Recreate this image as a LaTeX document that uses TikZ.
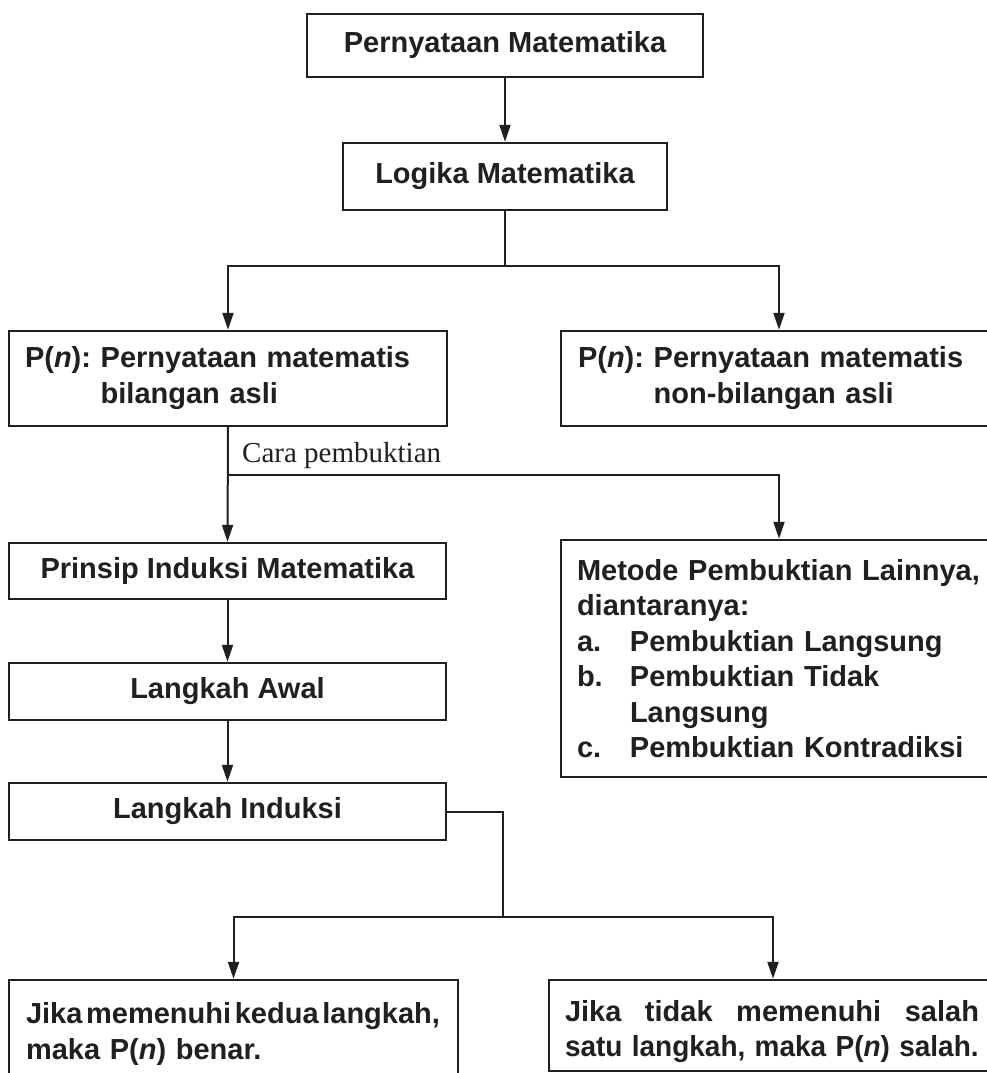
\documentclass[tikz,border=0pt]{standalone}
\usepackage{fontspec}
\usepackage{graphicx}
\setmainfont{Liberation Sans}
\newfontfamily\labelserif{Liberation Serif}
\usetikzlibrary{arrows.meta}
\definecolor{ink}{RGB}{35,31,32}
\begin{document}
\begin{tikzpicture}[x=1pt,y=-1pt,
  box/.style={draw=ink, line width=2.4pt, rectangle, inner sep=0pt, text=ink,
    font=\fontsize{29}{35.5}\selectfont\bfseries},
  conn/.style={draw=ink, line width=2pt},
  arr/.style={conn, -{Triangle[length=17pt,width=11pt]}},
]
\useasboundingbox (0,0) rectangle (987,1073);
\clip (0,0) rectangle (987,1073);

\node[box, minimum width=396, minimum height=63] (b1) at (505,45.5) {Pernyataan Matematika};
\node[box, minimum width=324, minimum height=67] (b2) at (505,176.5) {Logika Matematika};

\node[box, minimum width=438, minimum height=95, text width=406, align=left] (bA) at (228,378.5)
  {\begin{tabular}{@{}l@{\ }l@{}}P(\textit{n}): & Pernyataan matematis\\ & bilangan asli\end{tabular}};
\node[box, minimum width=436, minimum height=95, text width=402, align=left] (bB) at (779,378.5)
  {\begin{tabular}{@{}l@{\ }l@{}}P(\textit{n}): & Pernyataan matematis\\ & non-bilangan asli\end{tabular}};

\node[box, minimum width=437, minimum height=56] (bC) at (227.5,571) {Prinsip Induksi Matematika};
\node[box, minimum width=437, minimum height=57] (bE) at (227.5,691.5) {Langkah Awal};
\node[box, minimum width=437, minimum height=57] (bF) at (227.5,811.5) {Langkah Induksi};

\node[box, minimum width=436, minimum height=237, text width=404, align=left] (bD) at (779,658.5)
  {Metode Pembuktian Lainnya,\\
   diantaranya:\\
   \makebox[53pt][l]{a.}Pembuktian Langsung\\
   \makebox[53pt][l]{b.}Pembuktian Tidak\\
   \hspace*{53pt}Langsung\\
   \makebox[53pt][l]{c.}Pembuktian Kontradiksi};

\node[box, minimum width=449, minimum height=102, text width=415, align=left] (bG) at (233.5,1031)
  {\hbox to 414pt{\rule{0pt}{27pt}Jika\hfil memenuhi\hfil kedua\hfil langkah,}\\
   \mbox{maka P(\textit{n}) benar.}};
\node[box, minimum width=448, minimum height=91, text width=416, align=left] (bH) at (773,1025.5)
  {\hbox to 414pt{\rule{0pt}{33pt}Jika\hfill tidak\hfill memenuhi\hfill salah}\\
   \scalebox{0.965}[1]{satu langkah, maka P(\textit{n}) salah.}};

\node[anchor=base west, inner sep=0pt, text=ink, font=\labelserif\fontsize{29}{34}\selectfont] (lbl) at (242,462) {Cara pembuktian};

\coordinate (j1) at (505,266);
\coordinate (j2) at (228,475);
\coordinate (j3) at (503,917);

\draw[arr] (b1.south) -- (b2.north);
\draw[conn] (b2.south) -- (j1);
\draw[arr] (j1) -| (bA.north);
\draw[arr] (j1) -| (bB.north);

\draw[arr] (bA.south) -- (bC.north);
\draw[arr] (j2) -| (bD.north);

\draw[arr] (bC.south) -- (bE.north);
\draw[arr] (bE.south) -- (bF.north);

\draw[conn] (bF.east) -| (j3);
\draw[arr] (j3) -| (bG.north);
\draw[arr] (j3) -| (bH.north);
\end{tikzpicture}
\end{document}
